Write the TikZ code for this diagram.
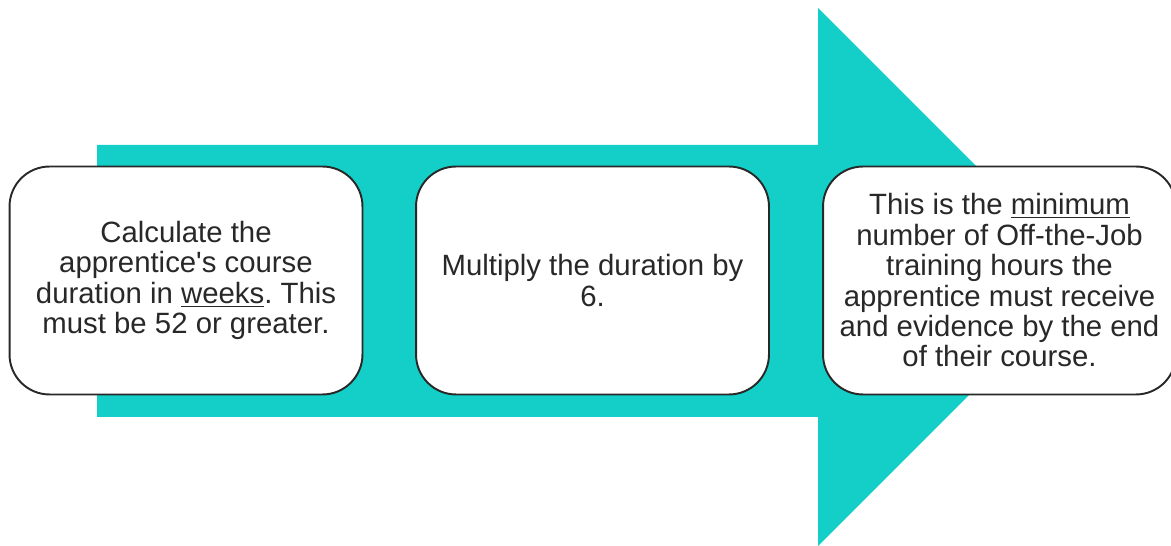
\documentclass[tikz,border=0pt]{standalone}
\usepackage{fontspec}
\setmainfont{Liberation Sans}
\frenchspacing
\definecolor{arrowteal}{RGB}{19,207,200}
\definecolor{inkgrey}{RGB}{40,40,40}
\tikzset{
  bigarrow/.style={fill=arrowteal, draw=none},
  stepbox/.style={draw=inkgrey, fill=white, line width=1.1pt, rounded corners=0.8cm,
    minimum width=7.06cm, minimum height=4.56cm, align=center, text=inkgrey,
    font=\fontsize{16.7}{17.3}\selectfont, inner sep=0pt},
}

\begin{document}
\begin{tikzpicture}[x=0.02cm, y=-0.02cm]
\useasboundingbox (0,0) rectangle (1171,546);
\begin{scope}
\clip (0,0) rectangle (1171,546);
\fill[bigarrow] (97,145) -- (818,145) -- (818,8) -- (1087,277) -- (818,546) -- (818,417) -- (97,417) -- cycle;
\node[stepbox] (calc) at (186,280.5) {Calculate the\\apprentice\textquotesingle s course\\duration in \underline{weeks}. This\\must be 52 or greater.};
\node[stepbox] (mult) at (592.5,280.5) {Multiply the duration by\\6.};
\node[stepbox] (result) at (999.5,280.5) {This is the \underline{minimum}\\number of Off-the-Job\\training hours the\\apprentice must receive\\and evidence by the end\\of their course.};
\end{scope}
\end{tikzpicture}
\end{document}
